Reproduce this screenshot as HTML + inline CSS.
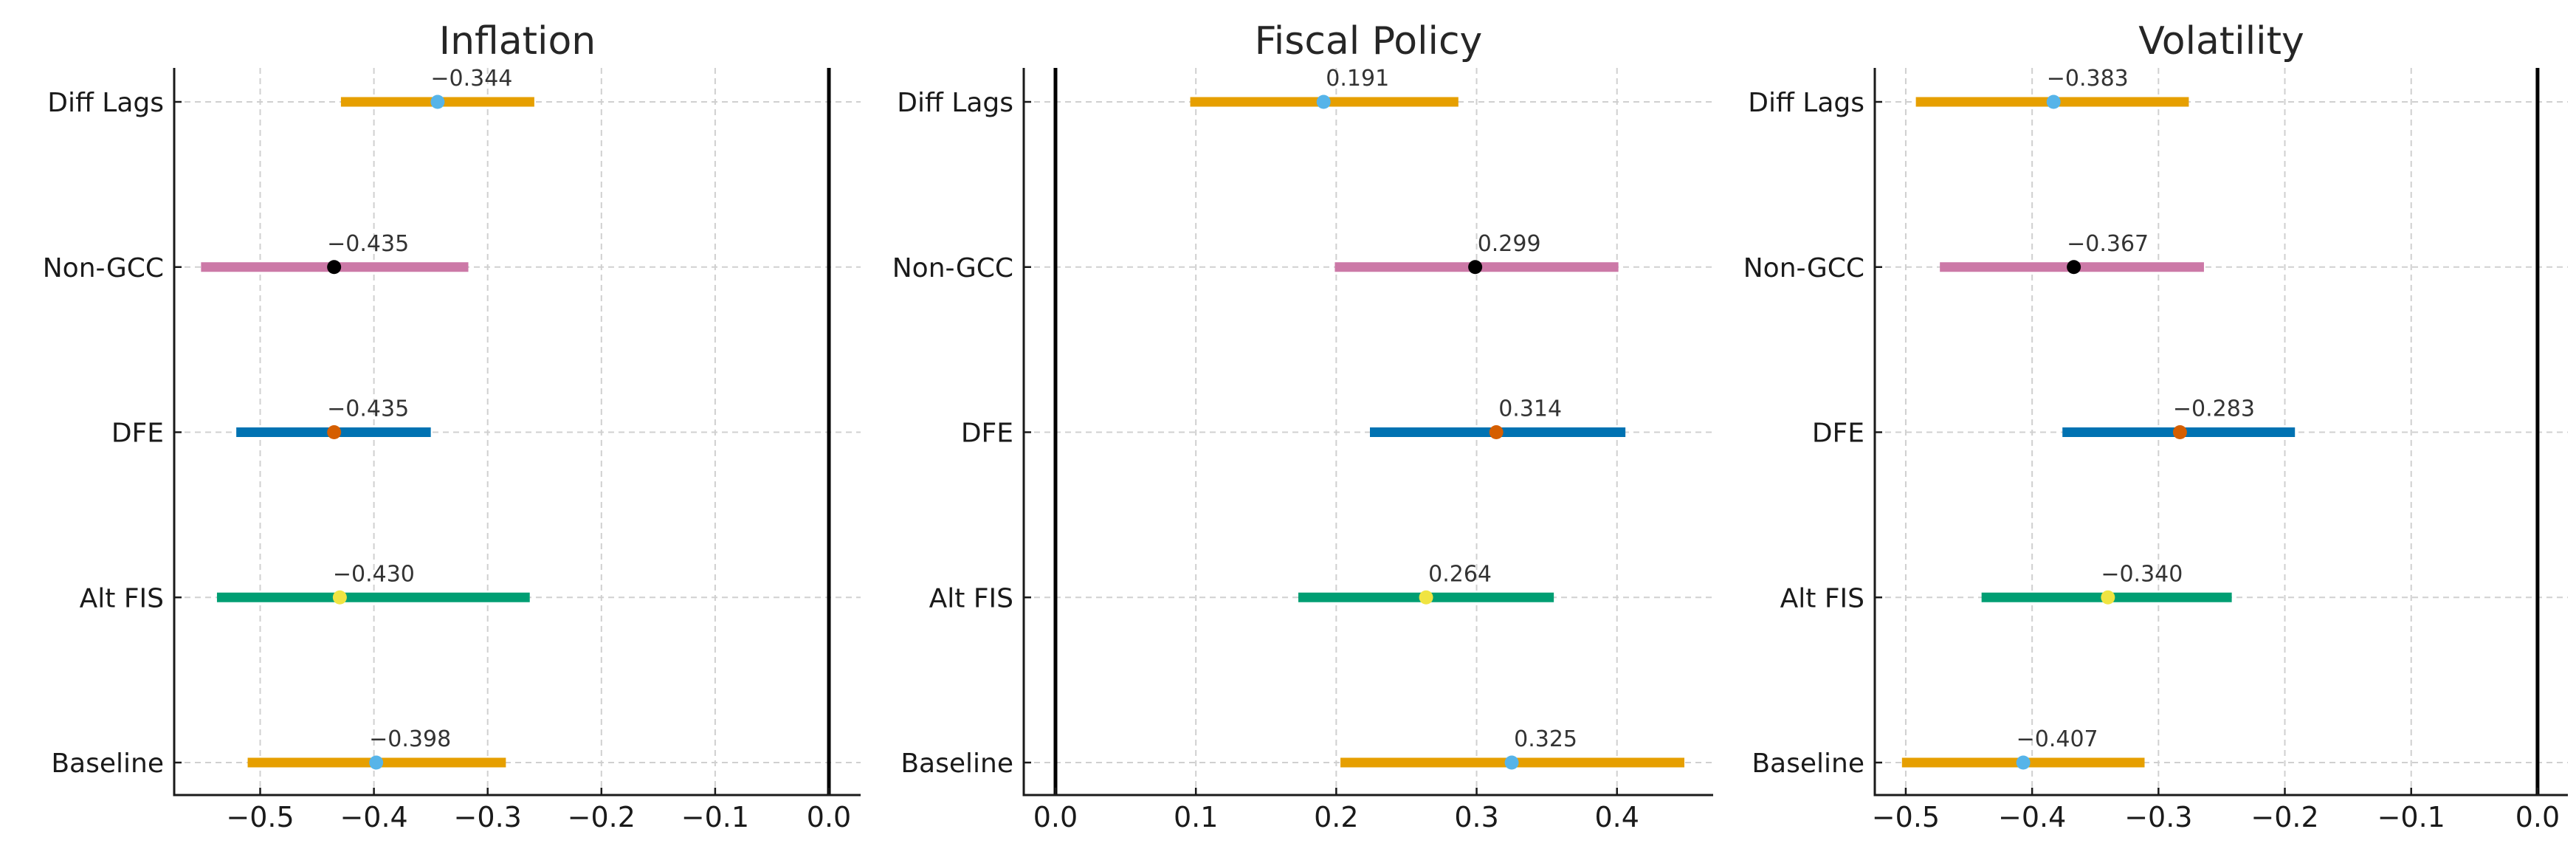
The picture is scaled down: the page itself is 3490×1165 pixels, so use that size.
<!DOCTYPE html>
<html><head><meta charset="utf-8"><style>
html,body{margin:0;padding:0;background:#fff;}
svg{display:block;font-family:"DejaVu Sans","Liberation Sans",sans-serif;}
</style></head><body>
<svg id="chart" width="3490" height="1165" viewBox="0 0 3490 1165" xmlns="http://www.w3.org/2000/svg"></svg>
<script>
const categories = ["Diff Lags","Non-GCC","DFE","Alt FIS","Baseline"];
const inflationPoint = [-0.344,-0.435,-0.435,-0.430,-0.398];
const inflationLow = [-0.429,-0.552,-0.521,-0.538,-0.511];
const inflationHigh = [-0.259,-0.317,-0.350,-0.263,-0.284];
const fiscalPoint = [0.191,0.299,0.314,0.264,0.325];
const fiscalLow = [0.096,0.199,0.224,0.173,0.203];
const fiscalHigh = [0.287,0.401,0.406,0.355,0.448];
const volatilityPoint = [-0.383,-0.367,-0.283,-0.340,-0.407];
const volatilityLow = [-0.492,-0.473,-0.376,-0.440,-0.503];
const volatilityHigh = [-0.276,-0.264,-0.192,-0.242,-0.311];
const inflationTicks = [-0.5,-0.4,-0.3,-0.2,-0.1,0.0];
const fiscalTicks = [0.0,0.1,0.2,0.3,0.4];
const volatilityTicks = [-0.5,-0.4,-0.3,-0.2,-0.1,0.0];
const barColors = ["#E69F00","#CC79A7","#0072B2","#009E73","#E69F00"];
const markerColors = ["#56B4E9","#000000","#D55E00","#F0E442","#56B4E9"];

const NS="http://www.w3.org/2000/svg";
const svgRoot=document.getElementById('chart');
function mk(tag,attrs,parent){const e=document.createElementNS(NS,tag);for(const k in attrs)e.setAttribute(k,attrs[k]);(parent||svgRoot).appendChild(e);return e;}
function fmt(v){const s=Math.abs(v).toFixed(3);return (v<0?"\u2212":"")+s;}
function fmtTick(v){const s=Math.abs(v).toFixed(1);return (v<0?"\u2212":"")+s;}

const axTop=92,axBottom=1077,rowTop=138,rowBottom=1033;
function yPos(i){return rowTop+i*(rowBottom-rowTop)/(categories.length-1);}

function panel(key,title,x0,x1,xmin,xmax,points,lows,highs,ticks){
  const g=mk('g',{});
  
  
  const xs=v=>x0+(v-xmin)/(xmax-xmin)*(x1-x0);
  ticks.forEach(t=>{const l=mk('line',{x1:xs(t),x2:xs(t),y1:axTop,y2:axBottom,stroke:'#d0d0d0','stroke-width':2,'stroke-dasharray':'8,6'},g);
    
    });
  categories.forEach((c,i)=>{const l=mk('line',{x1:x0,x2:x1,y1:yPos(i),y2:yPos(i),stroke:'#d0d0d0','stroke-width':2,'stroke-dasharray':'8,6'},g);
    
    });
  const z=mk('line',{x1:xs(0),x2:xs(0),y1:axTop,y2:axBottom,stroke:'#000','stroke-width':5},g);
  
  
  const ls=mk('line',{x1:x0,x2:x0,y1:axTop,y2:axBottom+1.5,stroke:'#1a1a1a','stroke-width':3},g);
  
  
  const bs=mk('line',{x1:x0-1.5,x2:x1,y1:axBottom,y2:axBottom,stroke:'#1a1a1a','stroke-width':3},g);
  
  
  ticks.forEach(t=>{
    const tk=mk('line',{x1:xs(t),x2:xs(t),y1:axBottom,y2:axBottom-10,stroke:'#1a1a1a','stroke-width':2.5},g);
    
    
    const tl=mk('text',{x:xs(t),y:axBottom+43,'text-anchor':'middle','font-size':38,fill:'#1a1a1a'},g);
    tl.textContent=fmtTick(t);
    
    
  });
  categories.forEach((c,i)=>{
    const y=yPos(i);
    const tk=mk('line',{x1:x0,x2:x0+10,y1:y,y2:y,stroke:'#1a1a1a','stroke-width':2.5},g);
    
    
    const tl=mk('text',{x:x0-14,y:y+13,'text-anchor':'end','font-size':36,fill:'#1a1a1a'},g);
    tl.textContent=c;
    
    
    const b=mk('line',{x1:xs(lows[i]),x2:xs(highs[i]),y1:y,y2:y,stroke:barColors[i],'stroke-width':13},g);
    
    
    const m=mk('circle',{cx:xs(points[i]),cy:y,r:9.5,fill:markerColors[i]},g);
    
    
    const vl=mk('text',{x:xs(points[i])+46,y:y-22,'text-anchor':'middle','font-size':30,fill:'#333'},g);
    vl.textContent=fmt(points[i]);
    
    
  });
  const tt=mk('text',{x:(x0+x1)/2,y:73,'text-anchor':'middle','font-size':52,fill:'#262626'},g);
  tt.textContent=title;
  
  
}
panel('inflation','Inflation',236,1166,-0.5756,0.0279,inflationPoint,inflationLow,inflationHigh,inflationTicks);
panel('fiscal-policy','Fiscal Policy',1387,2321,-0.0226,0.4685,fiscalPoint,fiscalLow,fiscalHigh,fiscalTicks);
panel('volatility','Volatility',2540,3479,-0.5245,0.0240,volatilityPoint,volatilityLow,volatilityHigh,volatilityTicks);
</script>
</body></html>
